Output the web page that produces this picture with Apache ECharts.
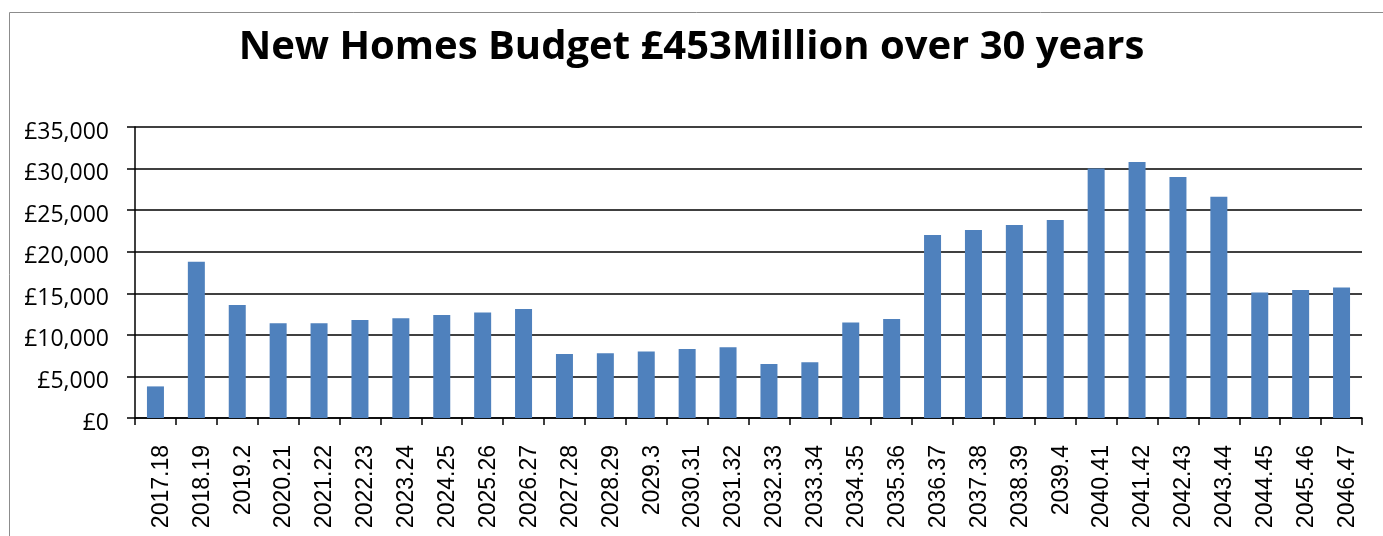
<!DOCTYPE html>
<html>
<head>
<meta charset="utf-8">
<style>
  html, body { margin: 0; padding: 0; background: #ffffff; }
  #chart { width: 1383px; height: 536px; }
</style>
<script src="https://cdn.jsdelivr.net/npm/echarts@6/dist/echarts.min.js"></script>
</head>
<body>
<div id="chart"></div>
<script>
// Financial years covered by the budget
const years = [
  '2017.18', '2018.19', '2019.2', '2020.21', '2021.22', '2022.23', '2023.24',
  '2024.25', '2025.26', '2026.27', '2027.28', '2028.29', '2029.3', '2030.31',
  '2031.32', '2032.33', '2033.34', '2034.35', '2035.36', '2036.37', '2037.38',
  '2038.39', '2039.4', '2040.41', '2041.42', '2042.43', '2043.44', '2044.45',
  '2045.46', '2046.47'
];

// Annual spend (£)
const spend = [
  3800, 18800, 13600, 11400, 11400, 11800, 12000,
  12400, 12700, 13100, 7700, 7800, 8000, 8300,
  8500, 6500, 6700, 11500, 11900, 22000, 22600,
  23200, 23800, 30000, 30800, 29000, 26600, 15100,
  15400, 15700
];

// Value axis range
const yMin = 0;
const yMax = 35000;
const yStep = 5000;

const titleText = 'New Homes Budget £453Million over 30 years';

const chart = echarts.init(document.getElementById('chart'), null, { renderer: 'canvas' });

chart.setOption({
  backgroundColor: '#ffffff',
  animation: false,
  graphic: [{
    type: 'rect',
    silent: true,
    z: -1,
    shape: { x: 9.5, y: 12.5, width: 1400, height: 600 },
    style: { fill: 'none', stroke: '#8c8c8c', lineWidth: 1 }
  }],
  title: {
    text: titleText,
    left: 'center',
    top: 23,
    textStyle: {
      fontFamily: 'Open Sans',
      fontWeight: 'bold',
      fontSize: 40,
      color: '#000000'
    }
  },
  grid: {
    left: 135,
    right: 21,
    top: 127,
    bottom: 118,
    containLabel: false
  },
  xAxis: {
    type: 'category',
    data: years,
    boundaryGap: true,
    axisLine: { show: true, lineStyle: { color: '#000000', width: 1.5 } },
    axisTick: { show: true, alignWithLabel: false, length: 7, inside: false,
                lineStyle: { color: '#000000', width: 1.5 } },
    axisLabel: {
      interval: 0,
      rotate: 90,
      margin: 27,
      fontFamily: 'Liberation Sans',
      fontSize: 23,
      color: '#000000',
      verticalAlign: 'top',
      lineHeight: 12
    },
    splitLine: { show: false }
  },
  yAxis: {
    type: 'value',
    min: yMin,
    max: yMax,
    interval: yStep,
    axisLine: { show: true, lineStyle: { color: '#000000', width: 1.5 } },
    axisTick: { show: true, length: 8, inside: false,
                lineStyle: { color: '#000000', width: 1.5 } },
    axisLabel: {
      margin: 26,
      fontFamily: 'Open Sans',
      fontSize: 23,
      color: '#000000',
      verticalAlign: 'top',
      lineHeight: 10,
      formatter: function (v) {
        return '£' + v.toLocaleString('en-GB');
      }
    },
    splitLine: { show: true, lineStyle: { color: '#000000', width: 1.5 } }
  },
  series: [{
    type: 'bar',
    data: spend,
    barWidth: 17,
    itemStyle: { color: '#4f81bd' }
  }]
});
</script>
</body>
</html>
